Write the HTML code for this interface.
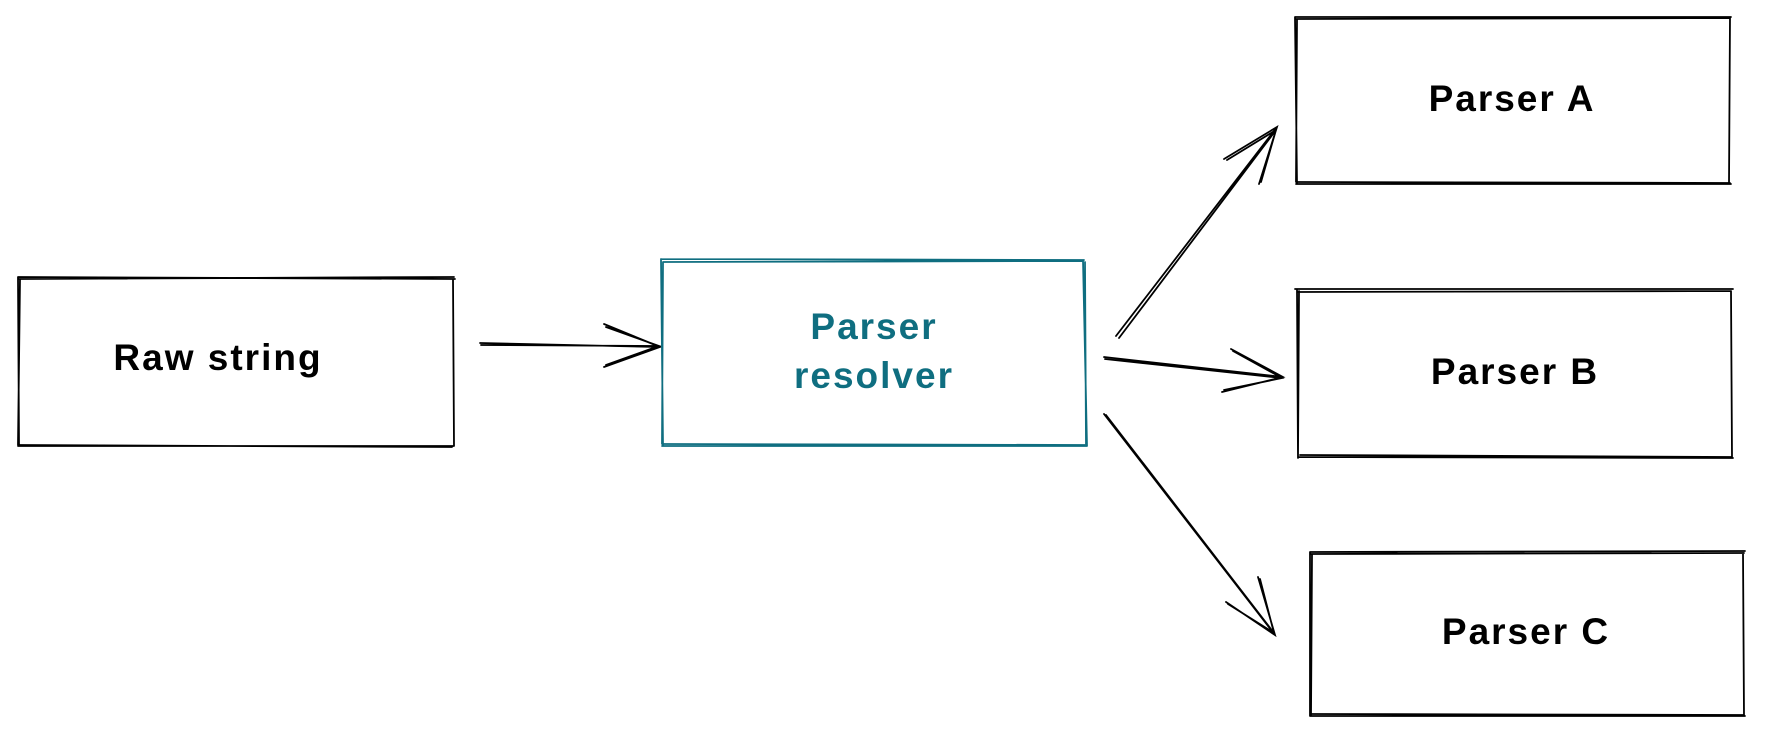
<!DOCTYPE html>
<html><head><meta charset="utf-8"><style>
html,body{margin:0;padding:0;background:#fff;width:1765px;height:738px;overflow:hidden}
svg text{font-family:"Liberation Sans",sans-serif;font-size:37px;font-weight:bold;letter-spacing:2px;text-anchor:middle;dominant-baseline:middle}
</style></head><body>
<svg width="1765" height="738" viewBox="0 0 1765 738" xmlns="http://www.w3.org/2000/svg">
<g fill="none" stroke="#000" stroke-width="1.8" stroke-linecap="round">
<path d="M18 277 L455 279 M19 279 L454 277 M18 277 L19 446 M20 279 L18 445 M453 279 L454 446 M18 446 L454 446 M20 445 L452 447"/>
<path d="M1295 17 L1731 17 M1296 19 L1730 18 M1295 17 L1297 184 M1297 19 L1296 182 M1730 17 L1729 184 M1296 184 L1731 184 M1298 182 L1730 183"/>
<path d="M1295 289 L1733 289 M1297 292 L1731 291 M1297 289 L1298 458 M1299 291 L1298 456 M1731 291 L1732 458 M1298 457 L1733 458 M1300 455 L1731 457"/>
<path d="M1310 552 L1745 551 M1311 554 L1744 553 M1310 552 L1310 716 M1312 554 L1311 715 M1743 553 L1744 716 M1310 716 L1745 716 M1312 714 L1743 715"/>
<path d="M480 343 L660 347 M481 345 L659 346 M604 324 L660 347 L604 367 M606 327 L659 346 L606 365"/>
<path d="M1116 336 L1277 127 M1119 338 L1276 130 M1224 159 L1277 127 L1259 184 M1227 160 L1276 130 L1261 182"/>
<path d="M1104 357 L1283 377 M1105 359 L1282 378 M1231 349 L1283 377 L1222 392 M1233 351 L1282 378 L1224 390"/>
<path d="M1104 414 L1275 635 M1106 415 L1274 633 M1226 602 L1275 635 L1258 577 M1228 604 L1274 633 L1260 579"/>
</g>
<g fill="none" stroke="#0f6e80" stroke-width="1.8" stroke-linecap="round">
<path d="M661 259 L1084 260 M663 262 L1083 261 M661 259 L663 446 M663 262 L662 444 M1083 260 L1087 446 M1085 262 L1086 444 M662 446 L1087 446 M664 444 L1085 445"/>
</g>
<text x="218" y="360" fill="#000">Raw string</text>
<text x="874" y="329" fill="#0f6e80">Parser</text>
<text x="874" y="378" fill="#0f6e80">resolver</text>
<text x="1512" y="101" fill="#000">Parser A</text>
<text x="1515" y="374" fill="#000">Parser B</text>
<text x="1526" y="634" fill="#000">Parser C</text>
</svg>
</body></html>
